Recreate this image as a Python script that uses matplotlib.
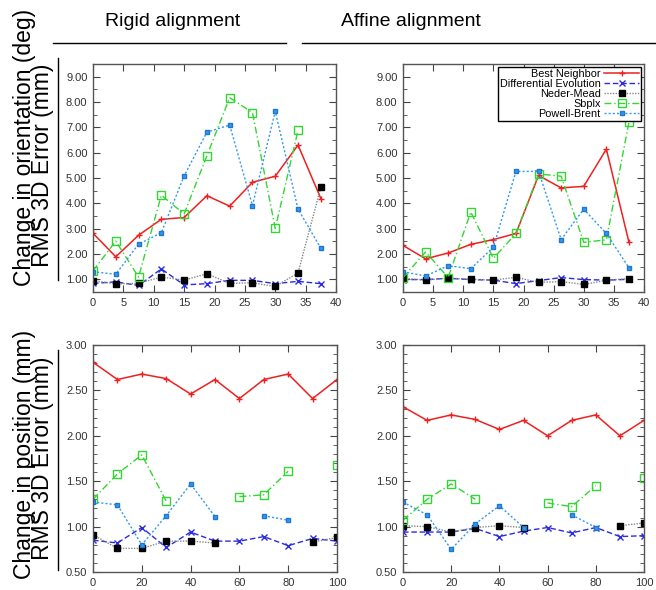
import numpy as np
import matplotlib
matplotlib.use("Agg")
import matplotlib.pyplot as plt
from matplotlib.lines import Line2D
from matplotlib.ticker import MultipleLocator, FormatStrFormatter

plt.rcParams['font.family'] = ['Liberation Sans', 'DejaVu Sans']

nan = np.nan

# ---------------------------
# data
# ---------------------------
x_orient = [0, 3.75, 7.5, 11.25, 15, 18.75, 22.5, 26.25, 30, 33.75, 37.5]
x_pos = [0, 10, 20, 30, 40, 50, 60, 70, 80, 90, 100]

methods = ["Best Neighbor", "Differential Evolution", "Neder-Mead", "Sbplx", "Powell-Brent"]

# rigid, orientation
rigid_orient_bn = [2.82, 1.89, 2.74, 3.37, 3.44, 4.30, 3.89, 4.83, 5.07, 6.30, 4.19]
rigid_orient_de = [0.84, 0.90, 0.76, 1.41, 0.78, 0.83, 0.96, 0.96, 0.83, 0.92, 0.83]
rigid_orient_nm = [0.95, 0.82, 0.84, 1.09, 0.97, 1.22, 0.84, 0.86, 0.72, 1.25, 4.63]
rigid_orient_sb = [1.33, 2.51, 1.09, 4.32, 3.58, 5.88, 8.17, 7.58, 3.01, 6.88, nan]
rigid_orient_pb = [1.30, 1.20, 2.39, 2.84, 5.08, 6.81, 7.09, 3.91, 7.64, 3.77, 2.23]

# affine, orientation
affine_orient_bn = [2.34, 1.81, 2.04, 2.38, 2.57, 2.81, 5.10, 4.61, 4.67, 6.14, 2.47]
affine_orient_de = [0.99, 0.99, 1.04, 0.99, 0.97, 0.83, 0.95, 1.07, 0.99, 0.97, 1.00]
affine_orient_nm = [1.04, 0.97, 1.05, 1.00, 0.97, 1.08, 0.88, 0.91, 0.80, 0.96, 1.03]
affine_orient_sb = [1.07, 2.08, 1.07, 3.66, 1.83, 2.81, 5.16, 5.07, 2.46, 2.56, 7.20]
affine_orient_pb = [1.30, 1.13, 1.54, 1.42, 2.27, 5.26, 5.26, 2.57, 3.77, 2.81, 1.46]

# rigid, position
rigid_pos_bn = [2.81, 2.62, 2.68, 2.63, 2.46, 2.62, 2.41, 2.62, 2.68, 2.41, 2.62]
rigid_pos_de = [0.85, 0.82, 0.99, 0.77, 0.94, 0.84, 0.84, 0.89, 0.79, 0.87, 0.84]
rigid_pos_nm = [0.91, 0.76, 0.76, 0.84, 0.84, 0.82, nan, nan, nan, 0.83, 0.88]
rigid_pos_sb = [1.30, 1.58, 1.79, 1.28, nan, nan, 1.33, 1.35, 1.61, nan, 1.68]
rigid_pos_pb = [1.27, 1.24, 0.80, 1.12, 1.47, 1.11, nan, 1.12, 1.07, nan, nan]

# affine, position
affine_pos_bn = [2.32, 2.17, 2.23, 2.18, 2.07, 2.17, 2.00, 2.17, 2.23, 2.00, 2.17]
affine_pos_de = [0.94, 0.94, 0.94, 0.98, 0.89, 0.95, 0.99, 0.93, 0.99, 0.89, 0.90]
affine_pos_nm = [1.01, 1.00, 0.94, 0.99, 1.01, 0.99, nan, nan, nan, 1.01, 1.04]
affine_pos_sb = [1.07, 1.30, 1.47, 1.30, nan, nan, 1.26, 1.22, 1.45, nan, 1.54]
affine_pos_pb = [1.27, 1.13, 0.75, 1.03, 1.23, 0.99, nan, 1.13, 0.99, nan, nan]

# ---------------------------
# styles per method
# ---------------------------
styles = [
    dict(color="#ee2020", ls="-", lw=1.1, marker="+", ms=5, mew=1.0),
    dict(color="#2b2be0", ls=(0, (4, 2)), lw=1.0, marker="x", ms=4, mew=1.0),
    dict(color="#888888", ls=(0, (1, 1)), lw=1.0, marker="s", ms=4, mfc="black", mec="black"),
    dict(color="#33d633", ls=(0, (5, 2, 1, 2)), lw=1.0, marker="s", ms=5.5, mfc="none", mew=1.0),
    dict(color="#3399ee", ls=(0, (1.5, 1.5)), lw=1.0, marker="s", ms=3.5, mfc="#3399ee", mec="#1f77d0"),
]

W, H = 656, 590
fig = plt.figure(figsize=(W / 100, H / 100), dpi=100)


def px_axes(l, t, r, b):
    return fig.add_axes([l / W, 1 - b / H, (r - l) / W, (b - t) / H])


def draw_panel(ax, x, series, xlim, xstep, ylim, ystep, yminor):
    for ys, st in zip(series, styles):
        ax.plot(x, ys, **st)
    ax.set_xlim(*xlim)
    ax.set_ylim(*ylim)
    ax.xaxis.set_major_locator(MultipleLocator(xstep))
    ax.yaxis.set_major_locator(MultipleLocator(ystep))
    ax.yaxis.set_minor_locator(MultipleLocator(yminor))
    ax.yaxis.set_major_formatter(FormatStrFormatter("%.2f"))
    ax.tick_params(which="both", direction="in", top=True, right=True,
                   colors="#444444", labelcolor="#333333", labelsize=8, pad=4)
    ax.tick_params(which="major", length=5)
    ax.tick_params(which="minor", length=3)
    for sp in ax.spines.values():
        sp.set_color("#555555")
        sp.set_linewidth(1.0)


ax1 = px_axes(93, 64, 336, 292)
ax2 = px_axes(403, 64, 644, 292)
ax3 = px_axes(93, 345, 337, 572)
ax4 = px_axes(403, 345, 644, 572)

draw_panel(ax1, x_orient,
           [rigid_orient_bn, rigid_orient_de, rigid_orient_nm, rigid_orient_sb, rigid_orient_pb],
           (0, 40), 5, (0.5, 9.5), 1, 0.5)
draw_panel(ax2, x_orient,
           [affine_orient_bn, affine_orient_de, affine_orient_nm, affine_orient_sb, affine_orient_pb],
           (0, 40), 5, (0.5, 9.5), 1, 0.5)
draw_panel(ax3, x_pos,
           [rigid_pos_bn, rigid_pos_de, rigid_pos_nm, rigid_pos_sb, rigid_pos_pb],
           (0, 100), 20, (0.5, 3.0), 0.5, 0.1)
draw_panel(ax4, x_pos,
           [affine_pos_bn, affine_pos_de, affine_pos_nm, affine_pos_sb, affine_pos_pb],
           (0, 100), 20, (0.5, 3.0), 0.5, 0.1)

# no 0.50 label on the orientation panels
for ax in (ax1, ax2):
    ax.set_yticks(np.arange(1, 10))

# legend (right-aligned text, sample on the right)
handles = ax2.get_lines()
leg = ax2.legend(handles, methods, loc="upper right", markerfirst=False,
                 fontsize=7.8, handlelength=3.2, handletextpad=0.35,
                 labelspacing=0.0, borderpad=0.2, borderaxespad=0.25,
                 fancybox=False, framealpha=1)
leg.get_frame().set_edgecolor("black")
leg.get_frame().set_linewidth(1.0)

# column titles and rules
fig.text(173 / W, 1 - 21 / H, "Rigid alignment", ha="center", va="center", fontsize=14)
fig.text(411 / W, 1 - 21 / H, "Affine alignment", ha="center", va="center", fontsize=14)
fig.add_artist(Line2D([53 / W, 286 / W], [1 - 43 / H, 1 - 43 / H], color="black", lw=1.0))
fig.add_artist(Line2D([302 / W, 656 / W], [1 - 43 / H, 1 - 43 / H], color="black", lw=1.0))

# row labels: two tightly packed lines, second one starting a bit later
fig.text(33.5 / W, 1 - 286 / H, "Change in orientation (deg)\n   RMS 3D Error (mm)",
         rotation=90, ha="center", va="bottom", multialignment="left",
         linespacing=0.7, fontsize=16.5)
fig.text(33.5 / W, 1 - 579 / H, "Change in position (mm)\n   RMS 3D Error (mm)",
         rotation=90, ha="center", va="bottom", multialignment="left",
         linespacing=0.7, fontsize=16.5)
fig.add_artist(Line2D([58 / W, 58 / W], [1 - 58 / H, 1 - 280 / H], color="black", lw=1.0))
fig.add_artist(Line2D([58 / W, 58 / W], [1 - 350 / H, 1 - 570 / H], color="black", lw=1.0))

fig.savefig("out.png", dpi=100)
